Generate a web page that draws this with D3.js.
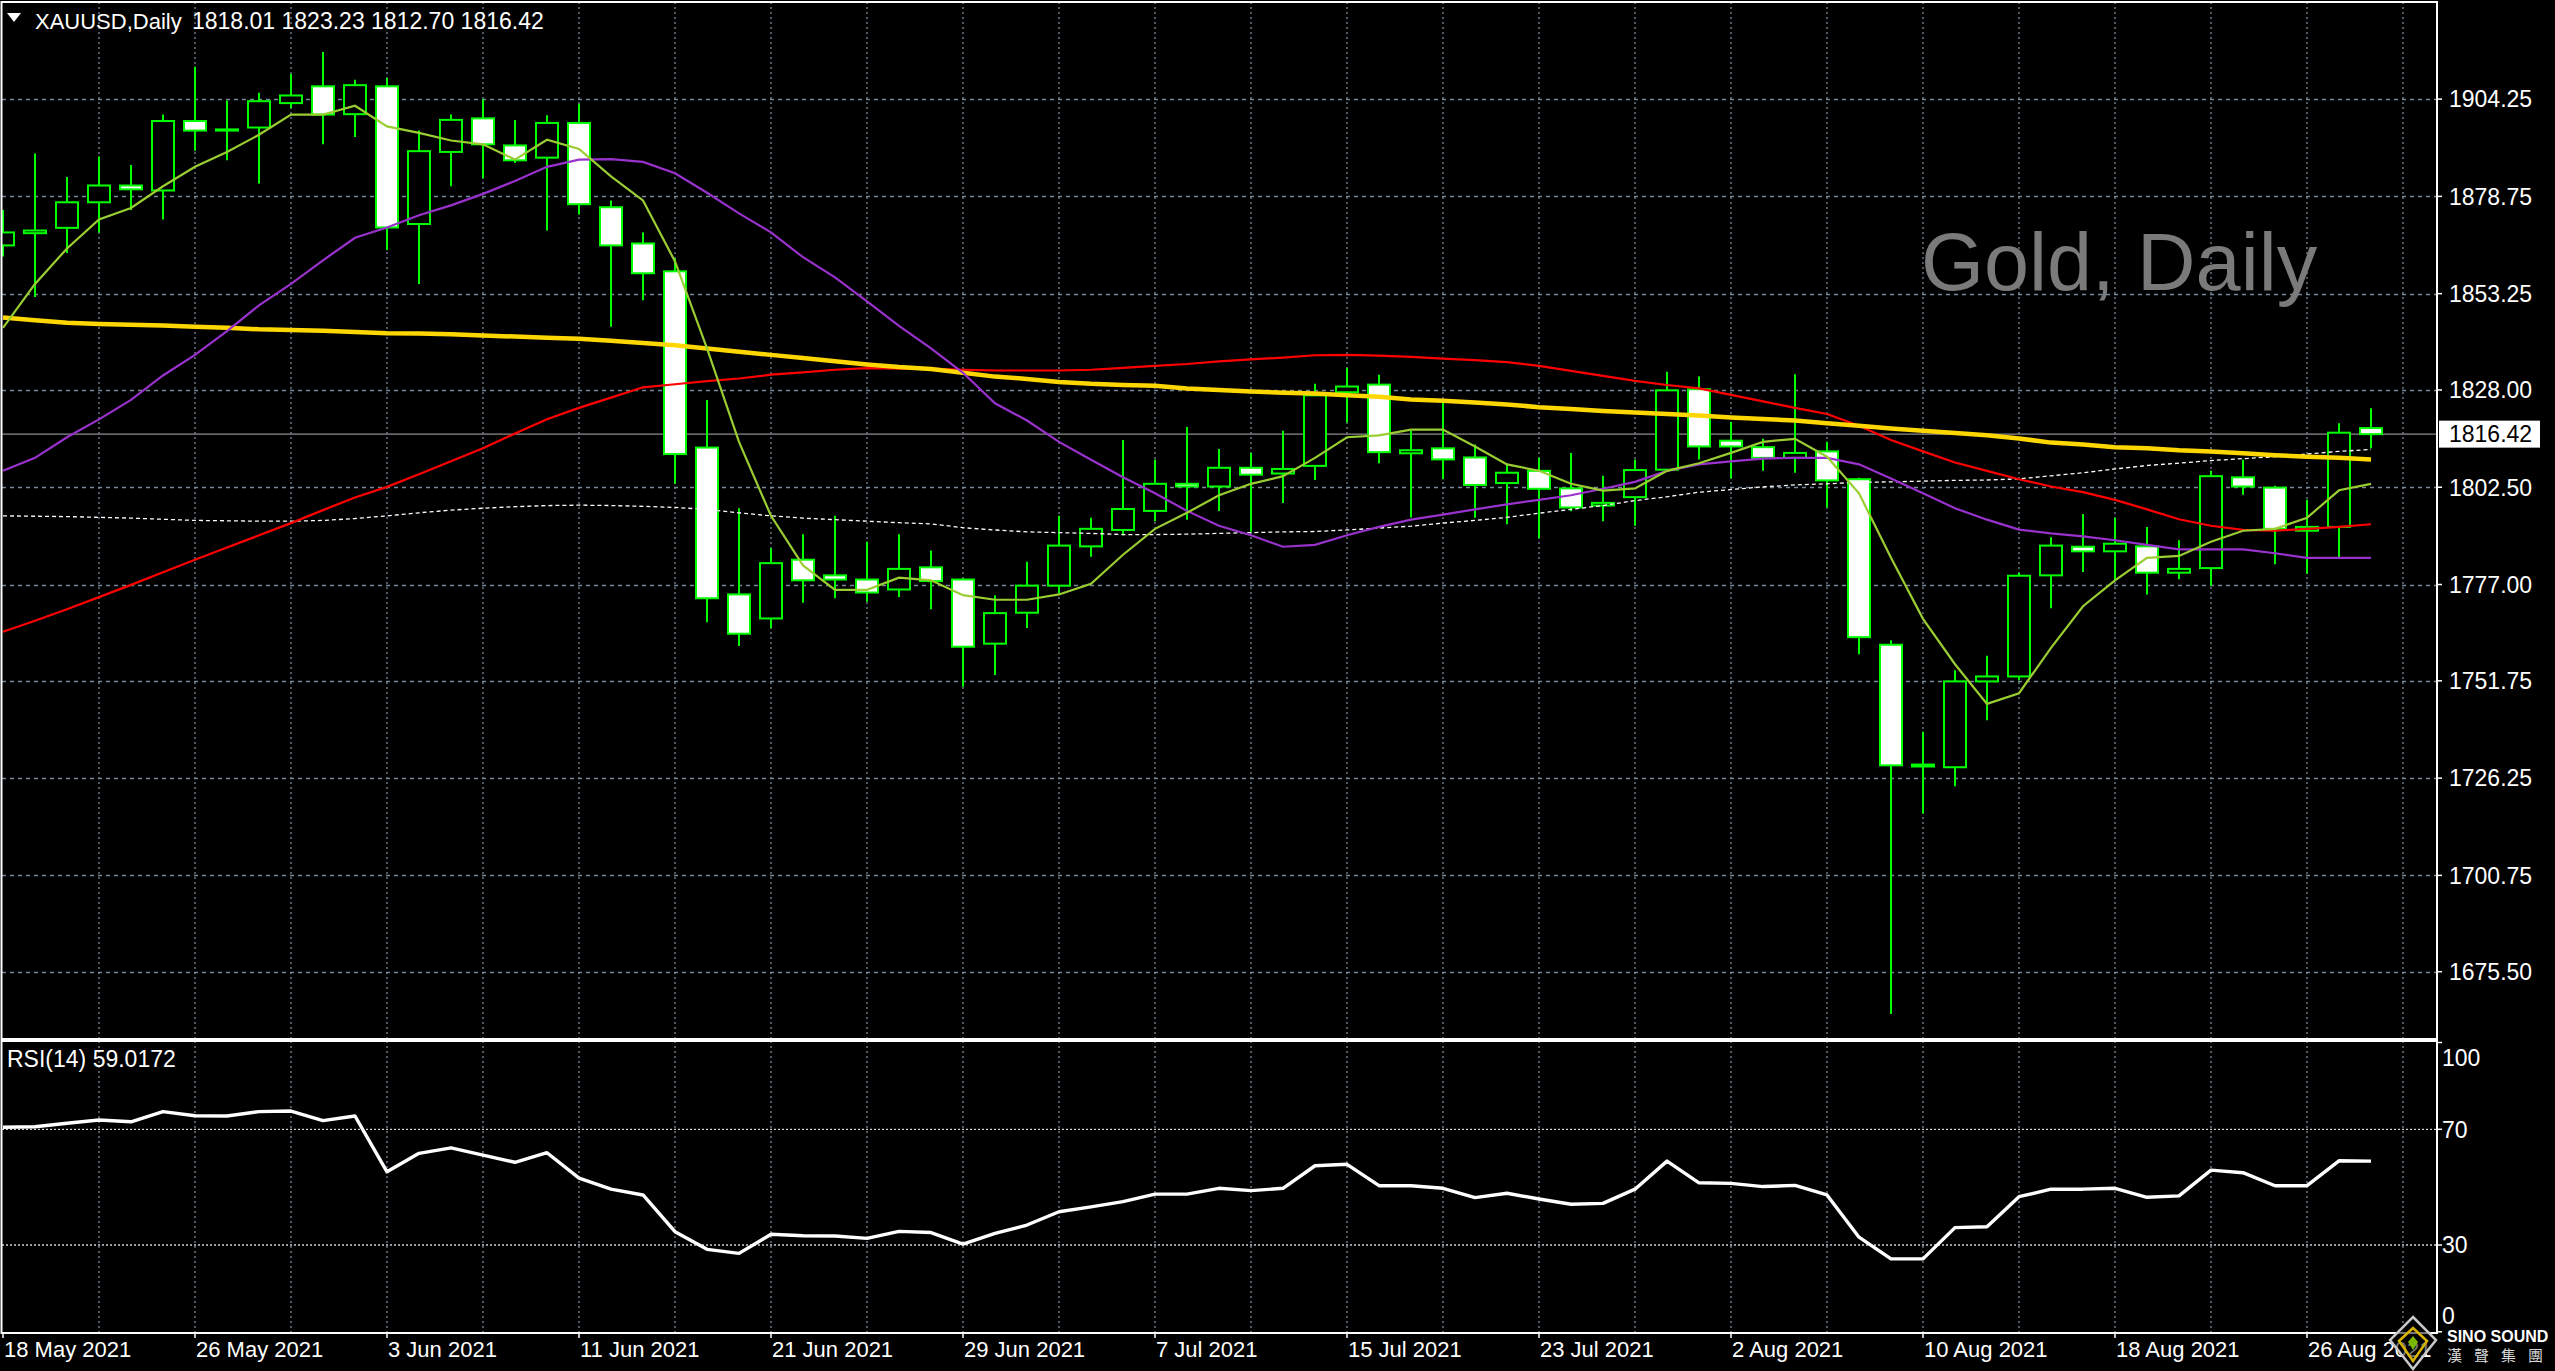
<!DOCTYPE html>
<html><head><meta charset="utf-8">
<script src="https://cdn.jsdelivr.net/npm/d3@7"></script>
<style>html,body{margin:0;padding:0;background:#000;overflow:hidden}svg{display:block}</style>
</head><body>
<svg id="c" width="2555" height="1371"></svg>
<script>
// ---------------- DATA ----------------
const dates = ["2021-05-18","2021-05-19","2021-05-20","2021-05-21","2021-05-24","2021-05-25","2021-05-26","2021-05-27","2021-05-28","2021-05-31",
"2021-06-01","2021-06-02","2021-06-03","2021-06-04","2021-06-07","2021-06-08","2021-06-09","2021-06-10","2021-06-11","2021-06-14",
"2021-06-15","2021-06-16","2021-06-17","2021-06-18","2021-06-21","2021-06-22","2021-06-23","2021-06-24","2021-06-25","2021-06-28",
"2021-06-29","2021-06-30","2021-07-01","2021-07-02","2021-07-05","2021-07-06","2021-07-07","2021-07-08","2021-07-09","2021-07-12",
"2021-07-13","2021-07-14","2021-07-15","2021-07-16","2021-07-19","2021-07-20","2021-07-21","2021-07-22","2021-07-23","2021-07-26",
"2021-07-27","2021-07-28","2021-07-29","2021-07-30","2021-08-02","2021-08-03","2021-08-04","2021-08-05","2021-08-06","2021-08-09",
"2021-08-10","2021-08-11","2021-08-12","2021-08-13","2021-08-16","2021-08-17","2021-08-18","2021-08-19","2021-08-20","2021-08-23",
"2021-08-24","2021-08-25","2021-08-26","2021-08-27","2021-08-30"];

const open  = [1865.9,1869.1,1870.5,1877.2,1881.6,1880.3,1898.5,1896.0,1896.8,1903.2,1907.6,1900.3,1907.6,1871.5,1890.4,1899.2,1892.1,1888.9,1898.0,1875.9,
1866.4,1859.1,1812.9,1774.4,1768.1,1783.5,1779.4,1778.3,1775.7,1781.5,1778.3,1761.5,1769.6,1776.7,1787.0,1791.3,1796.3,1803.4,1802.7,1807.6,
1806.1,1808.1,1827.4,1829.4,1811.4,1812.7,1810.3,1803.6,1806.8,1802.2,1797.7,1799.9,1807.1,1828.2,1814.7,1813.0,1810.2,1811.9,1804.6,1761.2,
1729.3,1729.1,1751.6,1752.9,1779.4,1786.9,1785.7,1787.0,1780.1,1781.3,1805.1,1802.4,1791.1,1792.1,1818.01];
const high  = [1875.2,1890.0,1883.8,1889.2,1887.0,1900.2,1912.7,1903.9,1905.9,1910.8,1916.6,1909.3,1909.8,1896.0,1900.2,1904.2,1898.8,1900.0,1903.0,1877.7,
1869.3,1862.5,1825.4,1797.0,1786.5,1790.2,1795.0,1788.2,1790.2,1785.9,1778.6,1774.2,1783.0,1795.0,1794.5,1814.9,1809.8,1818.3,1812.5,1811.5,
1817.3,1829.6,1833.8,1832.0,1817.3,1824.9,1813.7,1808.5,1810.2,1811.5,1805.5,1809.8,1832.8,1831.5,1819.6,1815.2,1832.1,1814.4,1805.0,1762.4,
1738.4,1754.5,1758.3,1780.1,1789.4,1795.5,1794.5,1792.1,1788.6,1806.8,1809.7,1802.9,1799.2,1819.3,1823.23];
const low   = [1863.0,1852.4,1863.9,1869.3,1875.2,1872.7,1890.7,1888.2,1882.1,1901.9,1892.4,1894.3,1864.7,1855.8,1881.4,1883.5,1887.5,1869.8,1874.0,1844.6,
1851.5,1803.4,1767.1,1760.9,1765.6,1772.2,1773.4,1772.5,1773.7,1770.5,1750.2,1753.3,1765.6,1774.7,1784.3,1789.9,1793.6,1794.0,1796.3,1790.8,
1798.4,1804.4,1819.5,1808.8,1794.6,1804.6,1794.5,1792.8,1789.1,1796.2,1793.6,1792.4,1806.8,1809.8,1804.8,1806.8,1806.3,1797.2,1758.7,1664.4,
1717.0,1724.1,1741.4,1751.9,1770.8,1780.3,1778.1,1774.4,1778.4,1776.7,1800.5,1782.3,1779.8,1784.0,1812.70];
const close = [1869.3,1869.8,1877.2,1881.6,1880.6,1898.5,1896.0,1896.3,1903.7,1905.2,1900.2,1907.9,1870.6,1890.6,1898.8,1892.4,1888.2,1898.0,1876.7,1865.9,
1858.6,1811.2,1773.4,1764.1,1782.6,1778.1,1778.3,1774.9,1781.1,1777.9,1760.7,1769.5,1776.7,1787.2,1791.6,1796.8,1803.4,1802.7,1807.6,1805.8,
1807.3,1826.6,1828.9,1811.7,1812.2,1809.8,1803.1,1806.3,1802.1,1797.2,1798.4,1807.0,1827.9,1813.2,1813.2,1810.2,1811.5,1804.3,1763.2,1729.6,
1729.8,1751.6,1752.9,1779.3,1787.2,1785.7,1787.7,1780.1,1781.1,1805.4,1802.7,1791.6,1792.1,1816.8,1816.42];

// moving averages
const maFast = [1844.3,1855.8,1865.1,1872.7,1875.7,1881.4,1886.5,1890.4,1894.9,1900.2,1900.2,1902.5,1897.1,1895.4,1893.4,1892.4,1888.4,1893.6,1891.2,1884.0,
1877.7,1861.7,1838.9,1814.4,1795.0,1782.0,1775.6,1775.6,1778.8,1778.1,1774.2,1773.0,1773.0,1774.4,1777.2,1784.8,1791.6,1795.8,1800.4,1803.4,
1805.4,1810.2,1815.6,1816.1,1817.6,1817.6,1813.2,1808.5,1806.8,1803.4,1801.6,1802.2,1806.8,1808.8,1811.5,1814.4,1815.2,1810.5,1800.9,1784.0,
1768.0,1756.1,1745.7,1748.5,1760.4,1771.3,1778.1,1784.0,1784.5,1788.2,1791.1,1791.6,1794.5,1801.7,1803.4];
const maPurple = [1806.8,1810.2,1815.6,1820.3,1825.4,1831.8,1837.2,1843.4,1850.2,1855.8,1862.0,1867.9,1870.6,1873.8,1876.4,1879.4,1882.8,1886.5,1888.4,1888.5,
1887.8,1884.8,1879.7,1874.3,1869.3,1862.8,1857.5,1851.2,1844.8,1838.9,1832.5,1824.5,1820.0,1814.4,1809.7,1805.1,1800.9,1796.3,1792.4,1789.9,
1786.9,1787.4,1789.9,1792.1,1794.0,1795.3,1796.7,1798.0,1799.2,1800.4,1802.1,1803.9,1806.8,1808.5,1809.3,1810.0,1810.2,1810.2,1808.5,1804.8,
1800.9,1797.0,1794.0,1791.4,1790.4,1789.6,1788.6,1787.4,1786.2,1786.2,1786.2,1785.2,1784.0,1784.0,1784.0];
const maRed = [1764.6,1767.5,1770.5,1773.7,1776.9,1780.2,1783.5,1786.7,1789.9,1793.1,1796.5,1799.8,1802.6,1805.9,1809.3,1812.7,1816.6,1820.3,1823.3,1826.0,
1828.7,1829.5,1830.3,1831.0,1832.0,1832.6,1833.3,1833.7,1833.6,1833.6,1833.3,1833.1,1833.1,1833.1,1833.3,1833.8,1834.3,1834.8,1835.5,1836.0,
1836.5,1837.1,1837.2,1837.0,1836.7,1836.2,1835.8,1835.3,1834.3,1833.0,1831.7,1830.4,1829.3,1828.4,1826.7,1825.0,1823.3,1821.7,1818.6,1814.9,
1811.9,1809.0,1806.8,1804.6,1802.7,1801.2,1799.2,1796.7,1794.1,1792.4,1791.3,1791.1,1791.6,1792.1,1792.8];
const maGold = [1847.0,1846.3,1845.6,1845.3,1845.1,1844.9,1844.6,1844.3,1843.9,1843.7,1843.5,1843.2,1842.9,1842.8,1842.6,1842.3,1842.0,1841.7,1841.4,1840.9,
1840.3,1839.7,1838.9,1838.0,1837.2,1836.4,1835.5,1834.7,1834.0,1833.5,1832.5,1831.5,1830.9,1830.1,1829.6,1829.3,1829.1,1828.4,1828.0,1827.6,
1827.3,1827.1,1826.6,1826.2,1825.5,1825.2,1824.7,1824.2,1823.5,1823.0,1822.5,1822.1,1821.7,1821.3,1820.8,1820.4,1820.0,1819.3,1818.6,1817.9,
1817.3,1816.7,1816.1,1815.3,1814.2,1813.7,1813.0,1812.7,1812.2,1811.9,1811.4,1810.9,1810.5,1810.2,1809.8];
const maDotted = [1795.0,1794.9,1794.8,1794.6,1794.4,1794.1,1793.8,1793.7,1793.6,1793.6,1793.8,1794.3,1795.0,1795.8,1796.5,1797.0,1797.4,1797.7,1797.8,1797.7,
1797.5,1797.2,1796.7,1795.8,1795.0,1794.4,1794.0,1793.6,1793.2,1792.9,1791.9,1791.3,1790.8,1790.6,1790.4,1790.1,1790.1,1790.2,1790.4,1790.6,
1790.8,1790.9,1791.3,1791.8,1792.3,1793.1,1793.8,1794.6,1795.7,1796.7,1797.7,1799.0,1800.0,1801.2,1801.9,1802.6,1803.1,1803.4,1803.8,1803.9,
1804.1,1804.3,1804.4,1804.7,1805.5,1806.3,1807.3,1808.2,1808.8,1809.5,1810.0,1810.5,1811.2,1811.9,1812.4];
const rsi = [70.7,70.9,72.1,73.2,72.6,76.1,74.7,74.6,76.1,76.3,73.0,74.6,55.3,61.7,63.6,61.1,58.6,61.9,53.1,49.3,
47.3,34.6,28.5,27.1,33.7,33.2,33.1,32.3,34.7,34.3,30.3,34.0,36.9,41.5,43.2,45.0,47.6,47.6,49.6,48.8,
49.6,57.4,57.9,50.5,50.5,49.6,46.4,47.9,45.9,44.1,44.4,49.3,59.0,51.5,51.3,50.2,50.6,47.3,32.7,25.2,
25.2,36.0,36.3,46.7,49.3,49.3,49.6,46.5,47.0,55.9,55.0,50.5,50.5,59.1,59.0];

const priceTicks = ["1904.25","1878.75","1853.25","1828.00","1802.50","1777.00","1751.75","1726.25","1700.75","1675.50"];
const rsiTicks = [100,70,30,0];
const rsiLevels = [70,30];
const symbolText = "XAUUSD,Daily";
const rsiText = "RSI(14) 59.0172";
const watermark = "Gold, Daily";
const logoName = "SINO SOUND";
const logoChars = ["漢","聲","集","團"];

// ---------------- LAYOUT ----------------
const L = 2, R = 2437, T = 2, B = 1039, RT = 1041, RB = 1333;
const svg = d3.select("#c");
const x = d3.scaleLinear().domain([0, 75]).range([3, 2403]);
const y = d3.scaleLinear().domain([1675.5, 1904.25]).range([971.7, 99.1]);
const yr = d3.scaleLinear().domain([0, 100]).range([1331.8, 1042.5]);
const FONT = "'Liberation Sans', Arial, sans-serif";
const GRID = "#778899";

svg.append("rect").attr("width", 2555).attr("height", 1371).attr("fill", "#000");

const defs = svg.append("defs");
defs.append("clipPath").attr("id", "cm").append("rect").attr("x", L).attr("y", T).attr("width", R - L).attr("height", B - T);
defs.append("clipPath").attr("id", "cr").append("rect").attr("x", L).attr("y", RT).attr("width", R - L).attr("height", RB - RT);

const main = svg.append("g").attr("clip-path", "url(#cm)");
const rp = svg.append("g").attr("clip-path", "url(#cr)");

// grid
main.selectAll("line.hg").data(priceTicks).join("line")
  .attr("x1", L).attr("x2", R).attr("y1", d => Math.round(y(+d)) + 0.5).attr("y2", d => Math.round(y(+d)) + 0.5)
  .attr("stroke", GRID).attr("stroke-width", 1.3).attr("stroke-dasharray", "4,4");
const vbars = d3.range(3, 76, 3);
main.selectAll("line.vg").data(vbars).join("line")
  .attr("x1", d => x(d)).attr("x2", d => x(d)).attr("y1", T).attr("y2", B)
  .attr("stroke", GRID).attr("stroke-width", 1.3).attr("stroke-dasharray", "2,3");
rp.selectAll("line.vg").data(vbars).join("line")
  .attr("x1", d => x(d)).attr("x2", d => x(d)).attr("y1", RT).attr("y2", RB)
  .attr("stroke", GRID).attr("stroke-width", 1.3).attr("stroke-dasharray", "2,3");

// bid line
const last = close.length - 1;
main.append("line").attr("x1", L).attr("x2", R).attr("y1", y(close[last])).attr("y2", y(close[last]))
  .attr("stroke", "#8c8c8c").attr("stroke-width", 1.3);

// watermark
main.append("text").attr("x", 1921).attr("y", 290).attr("font-family", FONT).attr("font-size", 81)
  .attr("fill", "#7a7a7a").text(watermark);

// candles
const idx = d3.range(close.length);
main.selectAll("line.wick").data(idx).join("line")
  .attr("x1", i => x(i)).attr("x2", i => x(i)).attr("y1", i => y(high[i])).attr("y2", i => y(low[i]))
  .attr("stroke", "#00ff00").attr("stroke-width", 2);
main.selectAll("rect.body").data(idx).join("rect")
  .attr("x", i => x(i) - 11).attr("width", 22)
  .attr("y", i => y(Math.max(open[i], close[i])))
  .attr("height", i => Math.max(0.01, Math.abs(y(open[i]) - y(close[i]))))
  .attr("fill", i => close[i] >= open[i] ? "#000" : "#fff")
  .attr("stroke", "#00ff00").attr("stroke-width", 2);

// moving averages
const line = d3.line().x((d, i) => x(i)).y(d => y(d));
main.append("path").attr("d", line(maDotted)).attr("fill", "none").attr("stroke", "#fff").attr("stroke-width", 1.3).attr("stroke-dasharray", "4,3");
main.append("path").attr("d", line(maRed)).attr("fill", "none").attr("stroke", "#ff0000").attr("stroke-width", 2.2);
main.append("path").attr("d", line(maGold)).attr("fill", "none").attr("stroke", "#ffd700").attr("stroke-width", 4.5);
main.append("path").attr("d", line(maPurple)).attr("fill", "none").attr("stroke", "#9932cc").attr("stroke-width", 2.2);
main.append("path").attr("d", line(maFast)).attr("fill", "none").attr("stroke", "#9acd32").attr("stroke-width", 2.2);

// RSI panel
rp.selectAll("line.lv").data(rsiLevels).join("line")
  .attr("x1", L).attr("x2", R).attr("y1", d => yr(d)).attr("y2", d => yr(d))
  .attr("stroke", "#d0d0d0").attr("stroke-width", 1.3).attr("stroke-dasharray", "2,2");
const rline = d3.line().x((d, i) => x(i)).y(d => yr(d));
rp.append("path").attr("d", rline(rsi)).attr("fill", "none").attr("stroke", "#fff").attr("stroke-width", 3.4).attr("stroke-linejoin", "round");
svg.append("text").attr("x", 7).attr("y", 1067).attr("font-family", FONT).attr("font-size", 23).attr("fill", "#fff").text(rsiText);

// frames
const fr = svg.append("g").attr("fill", "none").attr("stroke", "#fff").attr("stroke-width", 2);
fr.append("rect").attr("x", L - 0.5).attr("y", T).attr("width", R - L + 0.5).attr("height", B - T);
fr.append("rect").attr("x", L - 0.5).attr("y", RT).attr("width", R - L + 0.5).attr("height", RB - RT);

// price axis
const pa = svg.append("g");
pa.selectAll("line").data(priceTicks).join("line")
  .attr("x1", R).attr("x2", R + 5).attr("y1", d => y(+d)).attr("y2", d => y(+d)).attr("stroke", "#fff").attr("stroke-width", 1.5);
pa.selectAll("text").data(priceTicks).join("text")
  .attr("x", 2449).attr("y", d => y(+d)).attr("dy", "0.36em")
  .attr("font-family", FONT).attr("font-size", 23).attr("fill", "#fff").text(d => d);
// current price box
const cy = y(close[last]);
svg.append("rect").attr("x", 2439).attr("y", cy - 13.5).attr("width", 101).attr("height", 27).attr("fill", "#fff");
svg.append("text").attr("x", 2449).attr("y", cy).attr("dy", "0.36em").attr("font-family", FONT).attr("font-size", 23)
  .attr("fill", "#000").text(close[last].toFixed(2));

// RSI axis
const ra = svg.append("g");
ra.selectAll("line").data(rsiTicks).join("line")
  .attr("x1", R).attr("x2", R + 5).attr("y1", d => yr(d)).attr("y2", d => yr(d)).attr("stroke", "#fff").attr("stroke-width", 1.5);
ra.selectAll("text").data(rsiTicks).join("text")
  .attr("x", 2442).attr("y", d => Math.min(Math.max(yr(d), RT + 17), RB - 17)).attr("dy", "0.36em")
  .attr("font-family", FONT).attr("font-size", 23).attr("fill", "#fff").text(d => d);

// date axis
const parse = d3.timeParse("%Y-%m-%d"), fmt = d3.timeFormat("%-d %b %Y");
const lab = idx.filter(i => i % 6 === 0);
svg.selectAll("line.dt").data(lab).join("line")
  .attr("x1", i => x(i)).attr("x2", i => x(i)).attr("y1", RB).attr("y2", RB + 5).attr("stroke", "#fff").attr("stroke-width", 1.5);
svg.selectAll("text.dt").data(lab).join("text")
  .attr("x", i => x(i) + 1).attr("y", 1357).attr("font-family", FONT).attr("font-size", 22).attr("fill", "#fff")
  .text(i => fmt(parse(dates[i])));

// header
svg.append("path").attr("d", "M7,13 L21,13 L14,22 Z").attr("fill", "#fff");
svg.append("text").attr("x", 35).attr("y", 28.5).attr("font-family", FONT).attr("font-size", 22).attr("fill", "#fff").text(symbolText);
svg.append("text").attr("x", 192).attr("y", 28.5).attr("font-family", FONT).attr("font-size", 23).attr("fill", "#fff")
  .text([open[last], high[last], low[last], close[last]].map(v => v.toFixed(2)).join(" "));

// logo (watermark bottom-right)
const lg = svg.append("g");
lg.append("path").attr("d", "M2413,1317 L2436,1340 L2413,1369 L2390,1340 Z").attr("fill", "rgba(0,0,0,0.55)").attr("stroke", "#c8c8c8").attr("stroke-width", 2.5);
lg.append("path").attr("d", "M2413,1328 L2427,1341 L2413,1361 L2399,1341 Z").attr("fill", "none").attr("stroke", "#d8b400").attr("stroke-width", 2.5);
lg.append("path").attr("d", "M2413,1336 L2418,1342 L2413,1350 L2408,1342 Z").attr("fill", "#7ab800");
lg.append("text").attr("x", 2447).attr("y", 1342).attr("font-family", FONT).attr("font-weight", "bold").attr("font-size", 16)
  .attr("fill", "#fff").text(logoName);
lg.selectAll("text.cj").data(logoChars).join("text")
  .attr("x", (d, i) => 2447 + i * 27).attr("y", 1361).attr("font-family", "'Noto Sans CJK TC', sans-serif").attr("font-size", 15)
  .attr("fill", "#d8d8d8").text(d => d);
</script>
</body></html>
